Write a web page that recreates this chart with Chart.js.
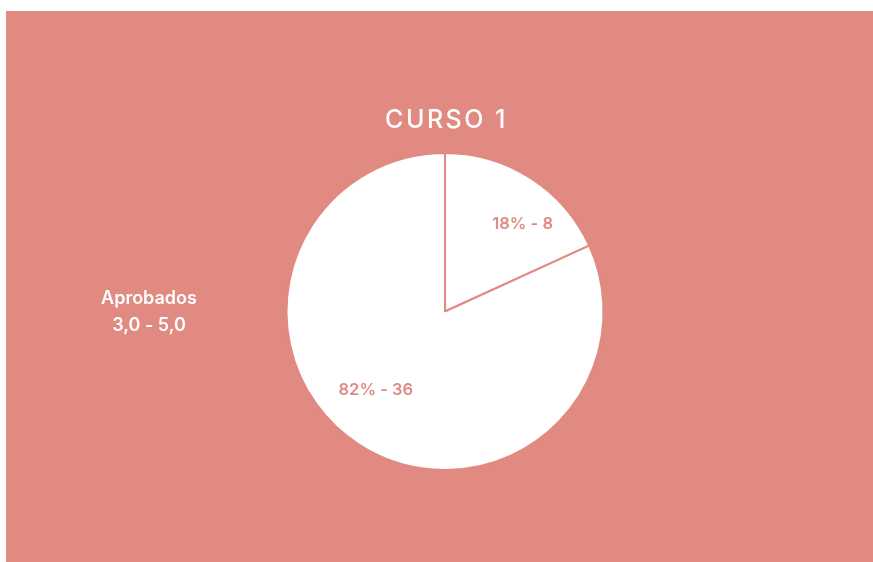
<!DOCTYPE html>
<html lang="es">
<head>
    <meta charset="UTF-8">
    <title>Curso 1</title>
    <script src="https://cdn.jsdelivr.net/npm/chart.js"></script>
    <style>
        html, body { margin: 0; padding: 0; background: #fff; }
        #wrap { position: absolute; left: 6px; top: 11px; width: 867px; height: 551px; background: #e18a82; }
        canvas { display: block; }
    </style>
</head>
<body>
    <div id="wrap"><canvas id="pie" width="867" height="551"></canvas></div>
    <script>
        const titleText = 'CURSO 1';
        const values = [8, 36];
        const legendLines = ['Aprobados', '3,0 - 5,0'];
        const salmon = '#e18a82';
        const labelRadius = [0.74, 0.66]; // fraction of the radius

        const total = values.reduce((a, b) => a + b, 0);
        const sliceLabels = values.map(v => Math.round(v / total * 100) + '% - ' + v);

        // title, side text and slice labels are drawn by hand
        const textPlugin = {
            id: 'textPlugin',
            afterDraw(chart) {
                const ctx = chart.ctx;
                const area = chart.chartArea;
                ctx.save();
                ctx.textAlign = 'center';
                ctx.textBaseline = 'middle';

                // title
                ctx.fillStyle = '#ffffff';
                ctx.font = '500 25px Inter';
                ctx.letterSpacing = '2.5px';
                ctx.fillText(titleText, (area.left + area.right) / 2 + 1.5, area.top - 32);
                ctx.letterSpacing = '0px';

                // side text
                ctx.font = '600 18px Inter';
                legendLines.forEach((t, i) => ctx.fillText(t, 143, 288 + i * 27));

                // slice labels
                ctx.fillStyle = salmon;
                ctx.font = '600 16.5px Inter';
                chart.getDatasetMeta(0).data.forEach((arc, i) => {
                    const p = arc.getProps(['x', 'y', 'startAngle', 'endAngle', 'outerRadius'], true);
                    const a = (p.startAngle + p.endAngle) / 2 + 8.7 * Math.PI / 180;
                    const r = p.outerRadius * labelRadius[i];
                    ctx.fillText(sliceLabels[i], p.x + Math.cos(a) * r, p.y + Math.sin(a) * r);
                });
                ctx.restore();
            }
        };

        new Chart(document.getElementById('pie'), {
            type: 'pie',
            data: {
                labels: sliceLabels,
                datasets: [{
                    data: values,
                    backgroundColor: '#ffffff',
                    borderColor: salmon,
                    borderWidth: 2
                }]
            },
            options: {
                responsive: false,
                animation: false,
                layout: { padding: { top: 141, bottom: 91, left: 11, right: 0 } },
                plugins: {
                    legend: { display: false },
                    title: { display: false },
                    tooltip: { enabled: false }
                }
            },
            plugins: [textPlugin]
        });
    </script>
</body>
</html>
